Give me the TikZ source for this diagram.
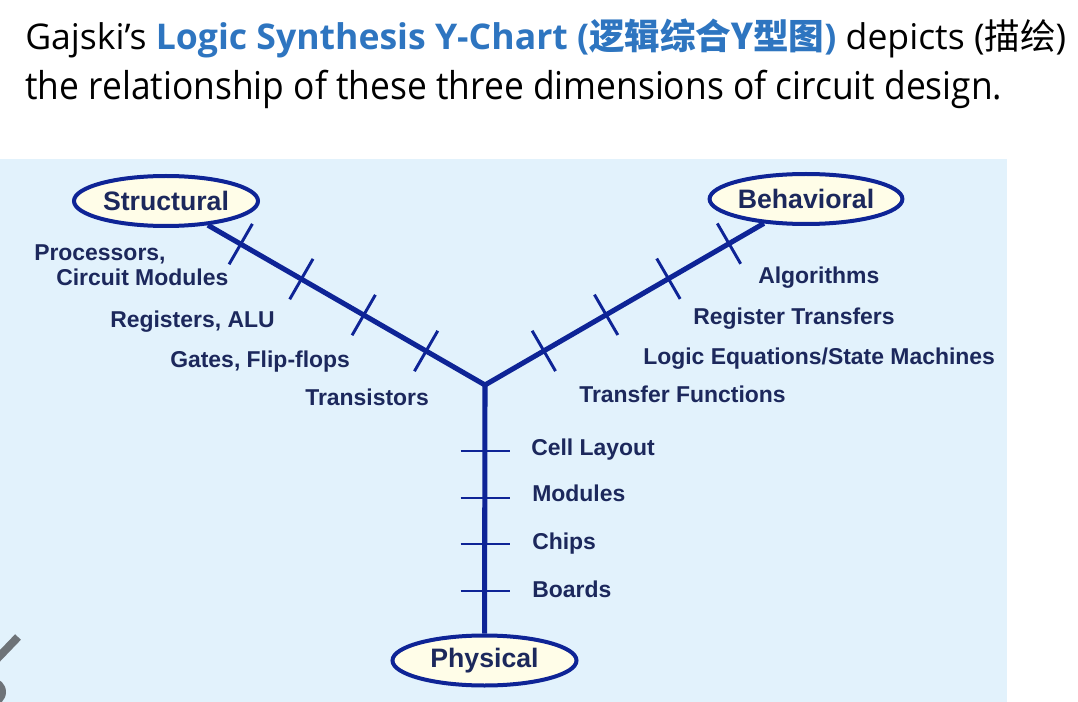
\documentclass[tikz,border=0pt]{standalone}
\usepackage{fontspec}
\setmainfont{Liberation Sans}
\newfontfamily\titlefont{Open Sans}
\newfontfamily\cjk{Noto Sans CJK SC}
\usetikzlibrary{shapes.geometric,calc}
\definecolor{panel}{RGB}{226,242,252}
\definecolor{yline}{RGB}{14,36,150}
\definecolor{ytext}{RGB}{28,40,92}
\definecolor{efill}{RGB}{255,253,232}
\definecolor{tblue}{RGB}{46,117,192}
\definecolor{grayart}{RGB}{110,115,120}
\tikzset{
  ell/.style={ellipse, draw=yline, line width=3pt, fill=efill, minimum width=138pt, minimum height=37.5pt, inner sep=0pt, text=ytext, font=\bfseries\fontsize{20}{24}\selectfont},
  mainline/.style={draw=yline, line width=3.8pt, line join=miter},
  tickline/.style={draw=yline, line width=2.2pt},
  lbl/.style={anchor=base west, inner sep=0pt, text=ytext, font=\bfseries\fontsize{17.2}{20}\selectfont},
  ttl/.style={anchor=base west, inner sep=0pt}
}
\begin{document}
\begin{tikzpicture}[x=0.75pt,y=-0.75pt]
\useasboundingbox (0,0) rectangle (1078,702);
\fill[panel] (0,159) rectangle (1007,702);
% artifact at bottom left
\begin{scope}
\clip (0,0) rectangle (1078,702);
\draw[line width=6pt, grayart] (-6,662) -- (18,637);
\fill[grayart] (-8,692) circle[radius=14];
\end{scope}
% title
\node[ttl] (title1) at (25,50) {\resizebox{780.75pt}{23pt}{\titlefont Gajski’s {\color{tblue}\bfseries Logic Synthesis Y-Chart ({\cjk\bfseries 逻辑综合Y型图})} depicts ({\cjk 描绘})}};
\node[ttl] (title2) at (25,100) {\resizebox{732.75pt}{22pt}{\titlefont the relationship of these three dimensions of circuit design.}};
% ellipses
\node[ell] (struct) at (166,201) {Structural};
\node[ell] (behav) at (806,199) {Behavioral};
\node[ell] (phys) at (484.5,660.5) {Physical};
\coordinate (Y) at (485,385);
% axes
\draw[mainline] (struct) -- (Y) -- (behav);
\draw[mainline] (Y) -- (phys);
% ticks
\foreach \dist [count=\i] in {51,105,159,211.5} {
  \coordinate (s\i) at ($(Y)!\dist pt!(struct)$);
  \draw[tickline] ($(s\i)!17.5pt!90:(struct)$) -- ($(s\i)!17.5pt!-90:(struct)$);
  \coordinate (b\i) at ($(Y)!\dist pt!(behav)$);
  \draw[tickline] ($(b\i)!17.5pt!90:(behav)$) -- ($(b\i)!17.5pt!-90:(behav)$);
}
\foreach \off in {66,113,159,206} {
  \draw[tickline] ($(Y)+(-24.5,\off)$) -- ($(Y)+(24.5,\off)$);
}
% labels
\node[lbl] (l1) at (34,261) {Processors,};
\node[lbl] (l2) at (56,286) {Circuit Modules};
\node[lbl] (l3) at (110,328) {Registers, ALU};
\node[lbl] (l4) at (170,367) {Gates, Flip-flops};
\node[lbl] (l5) at (305,405) {Transistors};
\node[lbl] (r1) at (758,284) {Algorithms};
\node[lbl] (r2) at (693,325) {Register Transfers};
\node[lbl] (r3) at (643,364) {Logic Equations/State Machines};
\node[lbl] (r4) at (579,402) {Transfer Functions};
\node[lbl] (p1) at (531,455) {Cell Layout};
\node[lbl] (p2) at (532,501) {Modules};
\node[lbl] (p3) at (532,549) {Chips};
\node[lbl] (p4) at (532,597) {Boards};
\end{tikzpicture}
\end{document}
